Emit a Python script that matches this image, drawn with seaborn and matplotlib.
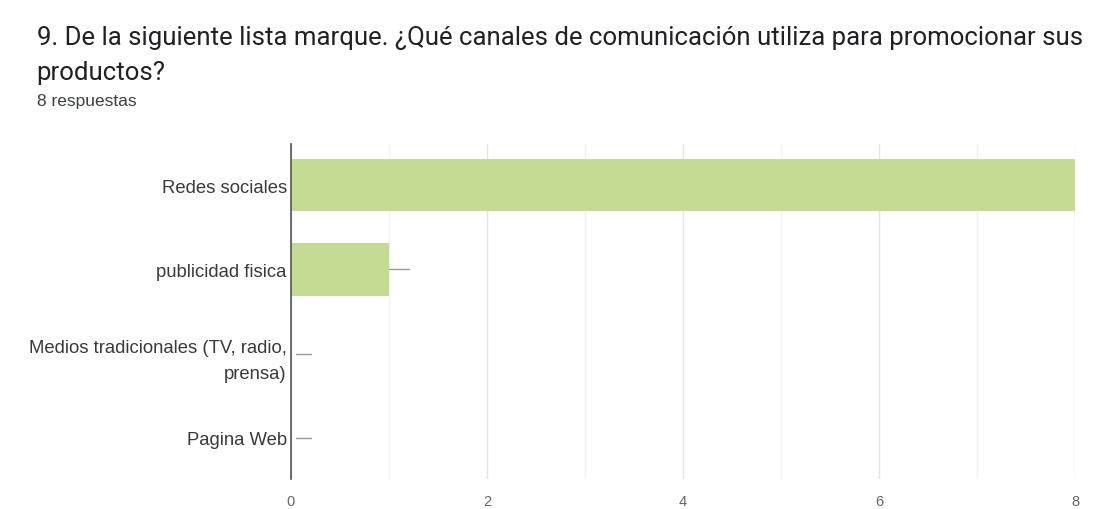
import matplotlib
matplotlib.use("Agg")
import matplotlib.pyplot as plt
import seaborn as sns
import pandas as pd
import numpy as np

# Survey answers: communication channels used to promote products
canales = ["Redes sociales", "publicidad fisica",
           "Medios tradicionales (TV, radio,\nprensa)", "Pagina Web"]
respuestas = [8, 1, 0, 0]
ticks_x = [0, 2, 4, 6, 8]

titulo = ("9. De la siguiente lista marque. ¿Qué canales de comunicación utiliza para promocionar sus\n"
          "productos?")
subtitulo = "8 respuestas"

df = pd.DataFrame({"canal": canales, "respuestas": respuestas})

sns.set_theme(style="white")
plt.rcParams["font.family"] = ["Roboto", "DejaVu Sans"]

fig = plt.figure(figsize=(11.08, 5.10), dpi=100)
ax = fig.add_axes([0.2626, 0.0588, 0.7076, 0.6569])

sns.barplot(data=df, x="respuestas", y="canal", color="#c4db93",
            width=0.62, ax=ax, saturation=1, edgecolor="none")

ax.set_xlim(0, 8)
ax.set_xticks(ticks_x)
ax.set_xticks(np.arange(1, 8, 2), minor=True)
ax.set_xticklabels([str(t) for t in ticks_x], color="#666666", fontsize=10.5,
                   family=["Liberation Sans", "DejaVu Sans"])
ax.tick_params(axis="x", length=0, pad=11)
ax.tick_params(axis="y", length=0, pad=3)
for lab in ax.get_yticklabels():
    lab.set_fontfamily(["Liberation Sans", "DejaVu Sans"])
    lab.set_fontsize(13.3)
    lab.set_color("#3a3a3a")
    lab.set_horizontalalignment("right")
    lab.set_multialignment("right")
    lab.set_linespacing(1.75)
ax.grid(True, axis="x", which="major", color="#e4e4e4", linewidth=1)
ax.grid(True, axis="x", which="minor", color="#f2f2f2", linewidth=1)
ax.set_axisbelow(True)
ax.set_xlabel("")
ax.set_ylabel("")

for s in ["top", "right", "bottom"]:
    ax.spines[s].set_visible(False)
ax.spines["left"].set_color("#555555")
ax.spines["left"].set_linewidth(1.2)

# Short leader stubs after each bar
for i, v in enumerate(respuestas):
    if v >= 8:
        continue
    start = v + (0.05 if v == 0 else 0.0)
    ax.plot([start, v + 0.2], [i, i], color="#999999", linewidth=1, clip_on=False)

fig.text(0.033, 0.95, titulo, fontsize=18.5, color="#202124", va="top",
         linespacing=1.6)
fig.text(0.033, 0.815, subtitulo, fontsize=12.5, color="#3c4043", va="top",
         family=["Liberation Sans", "DejaVu Sans"])

fig.savefig("out.png", dpi=100, facecolor="white")
